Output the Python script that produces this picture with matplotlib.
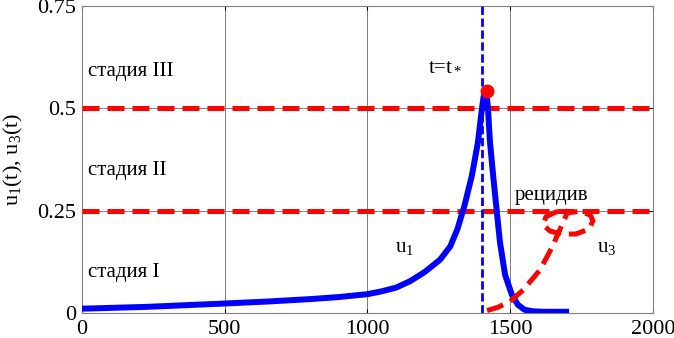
import matplotlib
matplotlib.use("Agg")
import matplotlib.pyplot as plt

plt.rcParams['font.family'] = ['Liberation Serif', 'DejaVu Serif']
plt.rcParams['mathtext.fontset'] = 'custom'
plt.rcParams['mathtext.rm'] = 'Liberation Serif'
plt.rcParams['mathtext.it'] = 'Liberation Serif'
plt.rcParams['mathtext.default'] = 'rm'

# u1(t)
t1 = [0, 227, 494, 650, 800, 900, 1000, 1050, 1100, 1150, 1200, 1254, 1290, 1315,
      1340, 1366, 1387, 1401, 1407, 1412, 1418, 1422, 1429, 1440, 1453, 1464, 1482,
      1506, 1527, 1550, 1580, 1620, 1706]
u1 = [0.0105, 0.015, 0.023, 0.028, 0.034, 0.039, 0.046, 0.053, 0.062, 0.078, 0.10,
      0.13, 0.163, 0.205, 0.263, 0.337, 0.418, 0.50, 0.53, 0.54, 0.53, 0.50, 0.418,
      0.337, 0.247, 0.173, 0.093, 0.044, 0.02, 0.008, 0.004, 0.003, 0.003]

# u3(t)
t3 = [1419, 1457, 1499, 1545, 1604, 1646, 1681, 1700, 1740, 1780, 1790, 1775,
      1730, 1680, 1640, 1615, 1625, 1660, 1700]
u3 = [0.006, 0.014, 0.028, 0.056, 0.105, 0.160, 0.215, 0.245, 0.248, 0.240,
      0.225, 0.205, 0.193, 0.193, 0.200, 0.215, 0.235, 0.247, 0.249]

stage_levels = [0.25, 0.5]
t_star = 1400
peak_t, peak_u = 1419, 0.542

xticks = [0, 500, 1000, 1500, 2000]
yticks = [0, 0.25, 0.5, 0.75]
ytick_labels = ['0', '0.25', '0.5', '0.75']

fig = plt.figure(figsize=(6.74, 3.38), dpi=100)
ax = fig.add_axes([0.1217, 0.074, 0.8471, 0.908])

ax.set_xlim(0, 2000)
ax.set_ylim(0, 0.75)
ax.set_xticks(xticks)
ax.set_yticks(yticks)
ax.set_yticklabels(ytick_labels)
ax.tick_params(direction='in', length=3, top=True, right=True, labelsize=16,
               colors='black')
ax.tick_params(axis='x', pad=5)
ax.tick_params(axis='y', pad=4)
for s in ax.spines.values():
    s.set_color('#808080')
    s.set_linewidth(0.8)
ax.grid(True, color='#808080', linewidth=0.7)
ax.set_axisbelow(True)

for lv in stage_levels:
    ax.axhline(lv, color='#ff0000', linewidth=3.6, linestyle=(0, (3.4, 1.6)), zorder=3)

ax.plot(t1, u1, color='#0000ff', linewidth=4.3, zorder=4, solid_capstyle='butt',
        solid_joinstyle='round')
ax.axvline(t_star, color='#0000ff', linewidth=2.0, linestyle=(0, (3, 1.3)), zorder=5)
ax.plot(t3, u3, color='#ff0000', linewidth=3.6, linestyle=(0, (3.4, 1.6)), zorder=4)
ax.plot([peak_t], [peak_u], 'o', color='#ff0000', markersize=9, zorder=6)

fs = 15
ax.text(20, 0.59, 'стадия III', fontsize=fs, va='center', ha='left')
ax.text(20, 0.347, 'стадия II', fontsize=fs, va='center', ha='left')
ax.text(20, 0.098, 'стадия I', fontsize=fs, va='center', ha='left')
ax.text(1212, 0.606, 't=t$_*$', fontsize=fs, va='center', ha='left')
ax.text(1517, 0.288, 'рецидив', fontsize=fs, va='center', ha='left')
ax.text(1096, 0.16, 'u$_1$', fontsize=fs, va='center', ha='left')
ax.text(1804, 0.16, 'u$_3$', fontsize=fs, va='center', ha='left')

ax.set_ylabel('u$_1$(t), u$_3$(t)', fontsize=16)
ax.yaxis.set_label_coords(-0.10, 0.5)

fig.savefig('out.png', dpi=100)
